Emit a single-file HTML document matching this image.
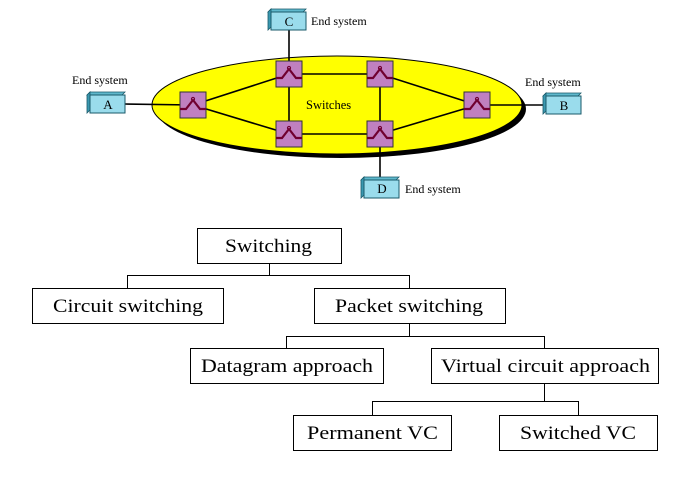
<!DOCTYPE html>
<html><head><meta charset="utf-8"><style>
html,body{margin:0;padding:0;background:#fff;}
svg{display:block;}
text{font-family:"Liberation Serif",serif;fill:#000;}
</style></head><body>
<svg width="684" height="479" viewBox="0 0 684 479" xmlns="http://www.w3.org/2000/svg">
<defs>
<g id="sw">
<rect x="-13" y="-13" width="26" height="26" fill="#c080c0" stroke="#333" stroke-width="1"/>
<polyline points="-13,4 -7,4 0,-5 7,4 13,4" fill="none" stroke="#700030" stroke-width="2.2"/>
<circle cx="0" cy="-6" r="1.6" fill="none" stroke="#700030" stroke-width="1"/>
</g>
<g id="es">
<polygon points="0,3 3,0 38,0 35,3" fill="#5fb8cc" stroke="#1a5a6a" stroke-width="0.8"/>
<polygon points="0,3 3,0 3,18 0,21" fill="#3a98b0" stroke="#1a5a6a" stroke-width="0.8"/>
<rect x="3" y="3" width="35" height="18" fill="#9adcec" stroke="#1a5a6a" stroke-width="1"/>
</g>
</defs>
<ellipse cx="341" cy="109" rx="185" ry="49" fill="#000"/>
<ellipse cx="337" cy="105" rx="185" ry="49" fill="#ffff00" stroke="#000" stroke-width="1"/>
<g stroke="#000" stroke-width="1.6" fill="none">
<line x1="125" y1="104" x2="193" y2="105"/>
<line x1="193" y1="105" x2="289" y2="74"/>
<line x1="193" y1="105" x2="289" y2="134"/>
<line x1="289" y1="74" x2="380" y2="74"/>
<line x1="289" y1="134" x2="380" y2="134"/>
<line x1="289" y1="74" x2="289" y2="134"/>
<line x1="380" y1="74" x2="380" y2="134"/>
<line x1="380" y1="74" x2="477" y2="105"/>
<line x1="380" y1="134" x2="477" y2="105"/>
<line x1="477" y1="105" x2="547" y2="105"/>
<line x1="289" y1="30" x2="289" y2="74"/>
<line x1="380" y1="134" x2="380" y2="180"/>
</g>
<use href="#sw" x="193" y="105"/>
<use href="#sw" x="289" y="74"/>
<use href="#sw" x="380" y="74"/>
<use href="#sw" x="289" y="134"/>
<use href="#sw" x="380" y="134"/>
<use href="#sw" x="477" y="105"/>
<use href="#es" x="87" y="92"/>
<use href="#es" x="268" y="9"/>
<use href="#es" x="543" y="93"/>
<use href="#es" x="361" y="177"/>
<g font-size="13" text-anchor="middle">
<text x="108" y="109">A</text>
<text x="289" y="26">C</text>
<text x="564" y="110">B</text>
<text x="382" y="193">D</text>
</g>
<g font-size="12">
<text x="72" y="84">End system</text>
<text x="311" y="25">End system</text>
<text x="525" y="86">End system</text>
<text x="405" y="193">End system</text>
<text x="306" y="109" font-size="12.5">Switches</text>
</g>
<g fill="none" stroke="#000" stroke-width="1">
<rect x="197.5" y="228.5" width="144" height="35"/>
<rect x="32.5" y="288.5" width="191" height="35"/>
<rect x="314.5" y="288.5" width="191" height="35"/>
<rect x="190.5" y="348.5" width="193" height="35"/>
<rect x="431.5" y="348.5" width="227" height="35"/>
<rect x="293.5" y="415.5" width="158" height="35"/>
<rect x="499.5" y="415.5" width="158" height="35"/>
<polyline points="269.5,264 269.5,275.5"/>
<polyline points="127.5,288 127.5,275.5 409.5,275.5 409.5,288"/>
<polyline points="409.5,324 409.5,336.5"/>
<polyline points="286.5,348 286.5,336.5 544.5,336.5 544.5,348"/>
<polyline points="544.5,384 544.5,401.5"/>
<polyline points="372.5,415 372.5,401.5 578.5,401.5 578.5,415"/>
</g>
<g font-size="19" lengthAdjust="spacingAndGlyphs">
<text x="225" y="252" textLength="87" lengthAdjust="spacingAndGlyphs">Switching</text>
<text x="53" y="312" textLength="150" lengthAdjust="spacingAndGlyphs">Circuit switching</text>
<text x="335" y="312" textLength="148" lengthAdjust="spacingAndGlyphs">Packet switching</text>
<text x="201" y="372" textLength="172" lengthAdjust="spacingAndGlyphs">Datagram approach</text>
<text x="441" y="372" textLength="209" lengthAdjust="spacingAndGlyphs">Virtual circuit approach</text>
<text x="307" y="439" textLength="131" lengthAdjust="spacingAndGlyphs">Permanent VC</text>
<text x="520" y="439" textLength="116" lengthAdjust="spacingAndGlyphs">Switched VC</text>
</g>
</svg>
</body></html>
